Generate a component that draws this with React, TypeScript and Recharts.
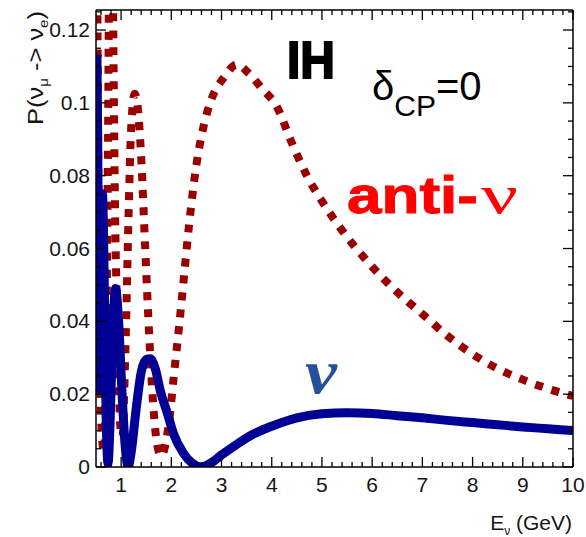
import React from 'react';
import { LineChart, Line, XAxis, YAxis } from 'recharts';

// neutrino (blue, solid)
const nuEnergy = [0.5, 0.52, 0.54, 0.56, 0.575, 0.6, 0.63, 0.66, 0.7, 0.74, 0.78, 0.83, 0.89, 0.95, 1.02, 1.08, 1.14, 1.2, 1.3, 1.4, 1.5, 1.58, 1.68, 1.78, 1.92, 2.04, 2.24, 2.42, 2.6, 2.8, 3.0, 3.3, 3.6, 4.0, 4.5, 5.0, 5.5, 6.0, 6.5, 7.0, 7.5, 8.0, 8.5, 9.0, 9.5, 10];
const nuProb = [0.1, 0.112, 0.075, 0.03, 0.021, 0.045, 0.075, 0.055, 0.015, 0.001, 0.012, 0.035, 0.049, 0.04, 0.02, 0.006, 0.0, 0.004, 0.016, 0.026, 0.0295, 0.0297, 0.027, 0.021, 0.0148, 0.0093, 0.0038, 0.001, 0.0, 0.0012, 0.0033, 0.0062, 0.0088, 0.0112, 0.0135, 0.0146, 0.0149, 0.0147, 0.0141, 0.0135, 0.0128, 0.0122, 0.0116, 0.011, 0.0105, 0.01];

// anti-neutrino (dark red, dotted)
const antiEnergy = [0.5, 0.53, 0.555, 0.58, 0.62, 0.66, 0.7, 0.74, 0.78, 0.82, 0.85, 0.88, 0.92, 0.96, 1.0, 1.03, 1.06, 1.1, 1.15, 1.2, 1.27, 1.33, 1.4, 1.48, 1.56, 1.64, 1.72, 1.8, 1.88, 1.96, 2.05, 2.15, 2.25, 2.35, 2.5, 2.65, 2.8, 3.05, 3.3, 3.55, 3.8, 4.1, 4.4, 4.7, 5.0, 5.4, 6.0, 6.5, 7.0, 7.5, 8.0, 8.5, 9.0, 9.5, 10];
const antiProb = [0.18, 0.12, 0.065, 0.03, 0.008, 0.004, 0.03, 0.09, 0.17, 0.16, 0.11, 0.07, 0.042, 0.02, 0.009, 0.008, 0.02, 0.04, 0.07, 0.093, 0.1025, 0.099, 0.085, 0.06, 0.036, 0.017, 0.006, 0.003, 0.006, 0.013, 0.025, 0.038, 0.052, 0.066, 0.083, 0.094, 0.101, 0.107, 0.1105, 0.108, 0.104, 0.099, 0.089, 0.08, 0.073, 0.065, 0.055, 0.048, 0.042, 0.036, 0.031, 0.027, 0.024, 0.0215, 0.0195];

const xTickLabels = [1, 2, 3, 4, 5, 6, 7, 8, 9, 10];
const yTickLabels = ['0', '0.02', '0.04', '0.06', '0.08', '0.1', '0.12'];
const yTickValues = [0, 0.02, 0.04, 0.06, 0.08, 0.1, 0.12];

const nuData = nuEnergy.map((e, i) => ({ e, p: nuProb[i] }));
const antiData = antiEnergy.map((e, i) => ({ e, p: antiProb[i] }));

// minor tick positions
const xTicks: number[] = [];
for (let i = 3; i <= 50; i++) xTicks.push(Math.round(i * 0.2 * 1000) / 1000);
const yTicks: number[] = [];
for (let i = 0; i <= 25; i++) yTicks.push(Math.round(i * 0.005 * 10000) / 10000);

const FONT = 'Liberation Sans, Arial, sans-serif';
const near = (a: number, b: number) => Math.abs(a - b) < 1e-6;

const BottomTick = (props: any) => {
  const { x, y, payload } = props;
  const major = xTickLabels.some(t => near(t, payload.value));
  return (
    <g>
      <line x1={x} y1={y} x2={x} y2={y - (major ? 10 : 5)} stroke="#000" strokeWidth={1.3} />
      {major && (
        <text x={x} y={y + 25} textAnchor="middle" fontSize={21} fontFamily={FONT} fill="#151515">
          {payload.value}
        </text>
      )}
    </g>
  );
};

const TopTick = (props: any) => {
  const { x, y, payload } = props;
  const major = xTickLabels.some(t => near(t, payload.value));
  return <line x1={x} y1={y} x2={x} y2={y + (major ? 10 : 5)} stroke="#000" strokeWidth={1.3} />;
};

const LeftTick = (props: any) => {
  const { x, y, payload } = props;
  const idx = yTickValues.findIndex(t => near(t, payload.value));
  const major = idx >= 0;
  return (
    <g>
      <line x1={x} y1={y} x2={x + (major ? 10 : 5)} y2={y} stroke="#000" strokeWidth={1.3} />
      {major && (
        <text x={x - 6} y={y + 7} textAnchor="end" fontSize={21} fontFamily={FONT} fill="#151515">
          {yTickLabels[idx]}
        </text>
      )}
    </g>
  );
};

const RightTick = (props: any) => {
  const { x, y, payload } = props;
  const major = yTickValues.some(t => near(t, payload.value));
  return <line x1={x} y1={y} x2={x - (major ? 10 : 5)} y2={y} stroke="#000" strokeWidth={1.3} />;
};

const axisLine = { stroke: '#000', strokeWidth: 1.5 };

const App = () => {
  return (
    <div style={{ position: 'absolute', left: 0, top: 0, width: 586, height: 537, background: '#fff' }}>
      <LineChart width={586} height={537} margin={{ top: 9, right: 12, bottom: 69, left: 95 }}>
        <XAxis
          dataKey="e"
          type="number"
          domain={[0.5, 10]}
          allowDataOverflow
          ticks={xTicks}
          interval={0}
          height={1}
          tickSize={0}
          tickMargin={0}
          tick={BottomTick}
          axisLine={axisLine}
        />
        <XAxis
          xAxisId="top"
          orientation="top"
          dataKey="e"
          type="number"
          domain={[0.5, 10]}
          allowDataOverflow
          ticks={xTicks}
          interval={0}
          height={1}
          tickSize={0}
          tickMargin={0}
          tick={TopTick}
          axisLine={axisLine}
        />
        <YAxis
          type="number"
          domain={[0, 0.1255]}
          allowDataOverflow
          ticks={yTicks}
          interval={0}
          width={1}
          tickSize={0}
          tickMargin={0}
          tick={LeftTick}
          axisLine={axisLine}
        />
        <YAxis
          yAxisId="right"
          orientation="right"
          type="number"
          domain={[0, 0.1255]}
          allowDataOverflow
          ticks={yTicks}
          interval={0}
          width={1}
          tickSize={0}
          tickMargin={0}
          tick={RightTick}
          axisLine={axisLine}
        />
        <Line
          data={antiData}
          dataKey="p"
          type="monotone"
          stroke="#9a0000"
          strokeWidth={8}
          strokeDasharray="8 9"
          dot={false}
          isAnimationActive={false}
        />
        <Line
          data={nuData}
          dataKey="p"
          type="monotone"
          stroke="#000094"
          strokeWidth={9}
          dot={false}
          isAnimationActive={false}
        />
      </LineChart>
      <svg width={586} height={537} style={{ position: 'absolute', left: 0, top: 0, pointerEvents: 'none' }}>
        <text transform="translate(43,125) rotate(-90)" fontSize={22} fontFamily={FONT} fill="#151515" textLength={114} lengthAdjust="spacingAndGlyphs">
          P(ν<tspan fontSize={13} dy={5}>μ</tspan>
          <tspan dy={-5}> -&gt; ν</tspan>
          <tspan fontSize={13} dy={5}>e</tspan>
          <tspan dy={-5}>)</tspan>
        </text>
        <text x={572} y={530} textAnchor="end" fontSize={21} fontFamily={FONT} fill="#151515">
          E<tspan fontSize={12} dy={5}>ν</tspan>
          <tspan dy={-5}> (GeV)</tspan>
        </text>
        <text x={287} y={78} fontSize={52} fontWeight="bold" fontFamily={FONT} fill="#000" stroke="#000" strokeWidth={2} textLength={48} lengthAdjust="spacingAndGlyphs">
          IH
        </text>
        <text x={372} y={100} fontSize={40} fontFamily={FONT} fill="#000">
          δ<tspan fontSize={30} dy={16}>CP</tspan>
          <tspan fontSize={40} dy={-16}>=0</tspan>
        </text>
        <text x={347} y={213} fontSize={52} fontWeight="bold" fontFamily={FONT} fill="#ff0000" stroke="#ff0000" strokeWidth={1} textLength={131} lengthAdjust="spacingAndGlyphs">
          anti-
        </text>
        <text x={481} y={213} fontSize={54} fontFamily="Liberation Serif, serif" fill="#ff0000" textLength={37} lengthAdjust="spacingAndGlyphs">
          ν
        </text>
        <text x={305} y={393} fontSize={64} fontWeight="bold" fontStyle="italic" fontFamily="Liberation Serif, serif" fill="#27509b" textLength={32} lengthAdjust="spacingAndGlyphs">
          ν
        </text>
      </svg>
    </div>
  );
};

export default App;
